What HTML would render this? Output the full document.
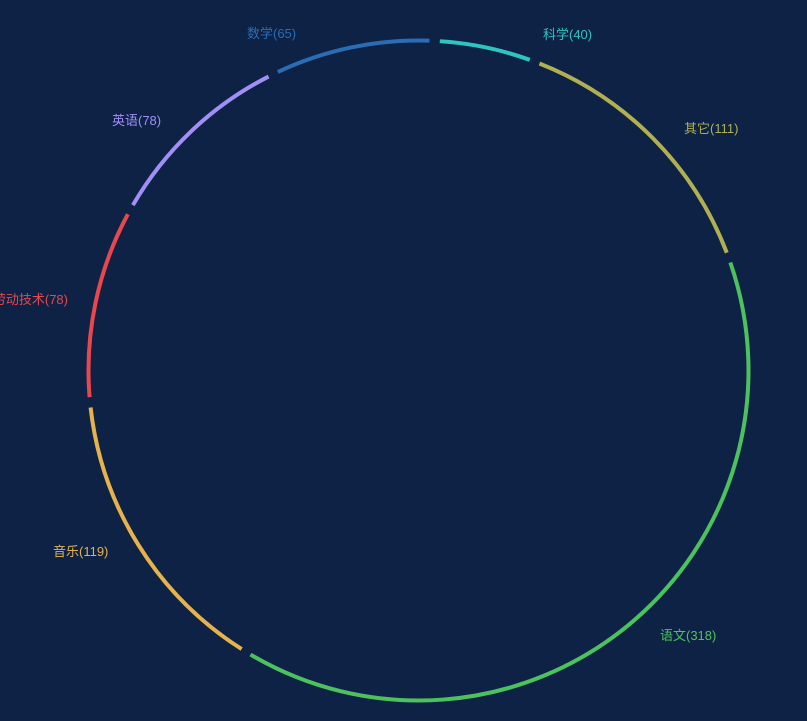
<!DOCTYPE html>
<html><head><meta charset="utf-8">
<style>
html,body{margin:0;padding:0;background:#0e2246;}
svg{display:block;}
text{font-family:"Liberation Sans","Noto Sans CJK SC",sans-serif;font-size:13px;}
</style></head>
<body>
<svg id="chart" width="807" height="721" viewBox="0 0 807 721">
<rect width="807" height="721" fill="#0e2246"/>
<g id="arcs"></g>
<g>
<text x="543" y="39" fill="#2ec5c0">科学(40)</text>
<text x="684" y="133" fill="#b0b050">其它(111)</text>
<text x="660" y="640" fill="#4cc25e">语文(318)</text>
<text x="53" y="556" fill="#e7b24b">音乐(119)</text>
<text x="68" y="304" text-anchor="end" fill="#e8474b">劳动技术(78)</text>
<text x="112" y="125" fill="#a18ff5">英语(78)</text>
<text x="247" y="38" fill="#2a6db5">数学(65)</text>
</g>
</svg>
<script>
const categories = ["科学","其它","语文","音乐","劳动技术","英语","数学"];
const values = [40,111,318,119,78,78,65];
const colors = ["#2ec5c0","#b0b050","#4cc25e","#e7b24b","#e8474b","#a18ff5","#2a6db5"];
const cx = 418.5, cy = 370.5, R = 330, startDeg = 2.8, gapDeg = 1.8;
const total = values.reduce((a,b)=>a+b,0);
function pt(deg){const r=deg*Math.PI/180;return [cx+R*Math.sin(r), cy-R*Math.cos(r)];}
const g = document.getElementById('arcs');
let cum = 0;
values.forEach((v,i)=>{
  const span = v/total*360;
  const a0 = startDeg + cum/total*360 + gapDeg/2;
  const a1 = a0 + span - gapDeg;
  cum += v;
  const p0 = pt(a0), p1 = pt(a1);
  const large = (a1-a0)>180?1:0;
  const path = document.createElementNS('http://www.w3.org/2000/svg','path');
  path.setAttribute('d',`M${p0[0]},${p0[1]} A${R},${R} 0 ${large} 1 ${p1[0]},${p1[1]}`);
  path.setAttribute('fill','none');
  path.setAttribute('stroke',colors[i]);
  path.setAttribute('stroke-width','4');
  
  
  g.appendChild(path);
});
</script>
</body></html>
